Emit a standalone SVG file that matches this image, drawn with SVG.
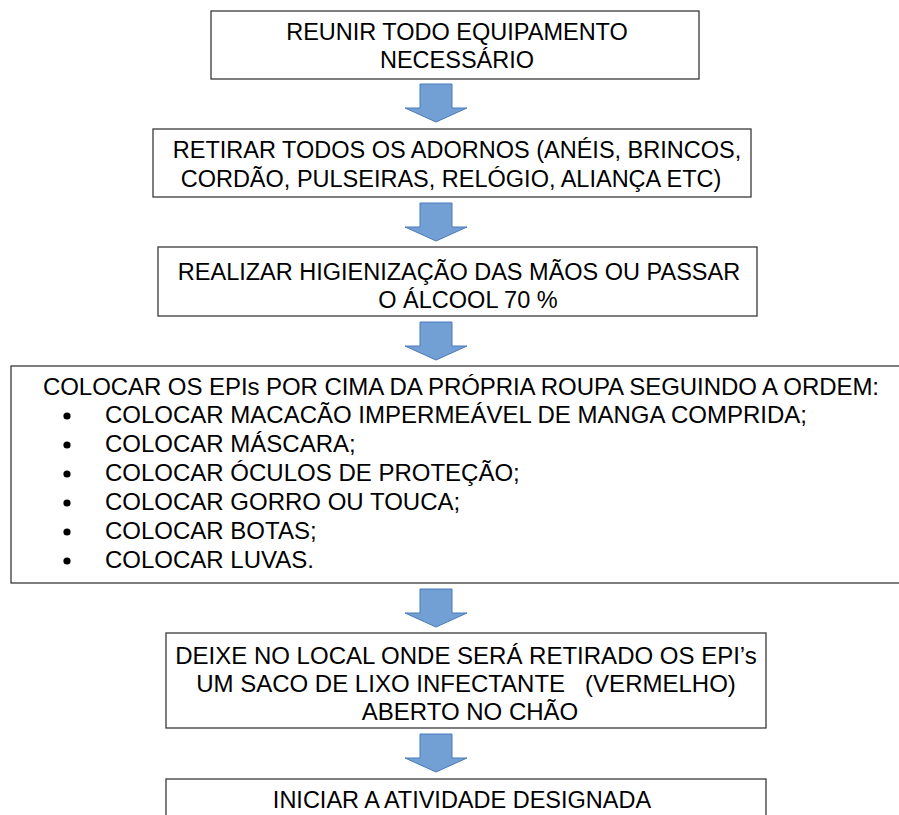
<svg xmlns="http://www.w3.org/2000/svg" width="899" height="815" viewBox="0 0 899 815">
<style>
.box{fill:#fff;stroke:#3a3a3a;stroke-width:1.3}
.t{font-family:"Liberation Sans",Arial,sans-serif;font-size:23.5px;fill:#000;text-anchor:middle}
.l{font-family:"Liberation Sans",Arial,sans-serif;font-size:24px;fill:#000}
.b{font-size:24px}
.arr{fill:#729fd4;stroke:#4a7ab8;stroke-width:1}
</style>
<defs>
<polygon id="arrow" points="-16,0 16,0 16,24 31,24 0,38 -31,24 -16,24"/>
</defs>
<rect width="899" height="815" fill="#fff"/>
<g id="connectors">
<use href="#arrow" class="arr" x="436" y="84"/>
<use href="#arrow" class="arr" x="436" y="203"/>
<use href="#arrow" class="arr" x="436" y="322"/>
<use href="#arrow" class="arr" x="436" y="589"/>
<use href="#arrow" class="arr" x="436" y="734"/>
</g>
<g id="n1">
<rect class="box" x="211" y="11" width="488" height="68"/>
<text class="t" x="457" y="40">REUNIR TODO EQUIPAMENTO</text>
<text class="t" x="457" y="68">NECESSÁRIO</text>
</g>
<g id="n2">
<rect class="box" x="153" y="129" width="598" height="68"/>
<text class="t" x="457" y="158">RETIRAR TODOS OS ADORNOS (ANÉIS, BRINCOS,</text>
<text class="t" x="451" y="187">CORDÃO, PULSEIRAS, RELÓGIO, ALIANÇA ETC)</text>
</g>
<g id="n3">
<rect class="box" x="158" y="247" width="599" height="69"/>
<text class="t" x="459" y="280">REALIZAR HIGIENIZAÇÃO DAS MÃOS OU PASSAR</text>
<text class="t" x="468" y="308">O ÁLCOOL 70 %</text>
</g>
<g id="n4">
<rect class="box" x="11" y="366" width="900" height="217"/>
<text class="l" x="43" y="395" textLength="836">COLOCAR OS EPIs POR CIMA DA PRÓPRIA ROUPA SEGUINDO A ORDEM:</text>
<g fill="#000">
<circle cx="67" cy="416" r="3.6"/>
<circle cx="67" cy="445" r="3.6"/>
<circle cx="67" cy="474" r="3.6"/>
<circle cx="67" cy="503" r="3.6"/>
<circle cx="67" cy="532" r="3.6"/>
<circle cx="67" cy="561" r="3.6"/>
</g>
<text class="l" x="105" y="423">COLOCAR MACACÃO IMPERMEÁVEL DE MANGA COMPRIDA;</text>
<text class="l" x="105" y="452">COLOCAR MÁSCARA;</text>
<text class="l" x="105" y="481">COLOCAR ÓCULOS DE PROTEÇÃO;</text>
<text class="l" x="105" y="510">COLOCAR GORRO OU TOUCA;</text>
<text class="l" x="105" y="539">COLOCAR BOTAS;</text>
<text class="l" x="105" y="568">COLOCAR LUVAS.</text>
</g>
<g id="n5">
<rect class="box" x="166" y="633" width="600" height="95"/>
<text class="t b" x="466" y="664">DEIXE NO LOCAL ONDE SERÁ RETIRADO OS EPI’s</text>
<text class="t b" x="466" y="692" xml:space="preserve">UM SACO DE LIXO INFECTANTE   (VERMELHO)</text>
<text class="t b" x="470" y="720">ABERTO NO CHÃO</text>
</g>
<g id="n6">
<rect class="box" x="166" y="779" width="600" height="60"/>
<text class="t" x="462" y="808">INICIAR A ATIVIDADE DESIGNADA</text>
</g>
</svg>
